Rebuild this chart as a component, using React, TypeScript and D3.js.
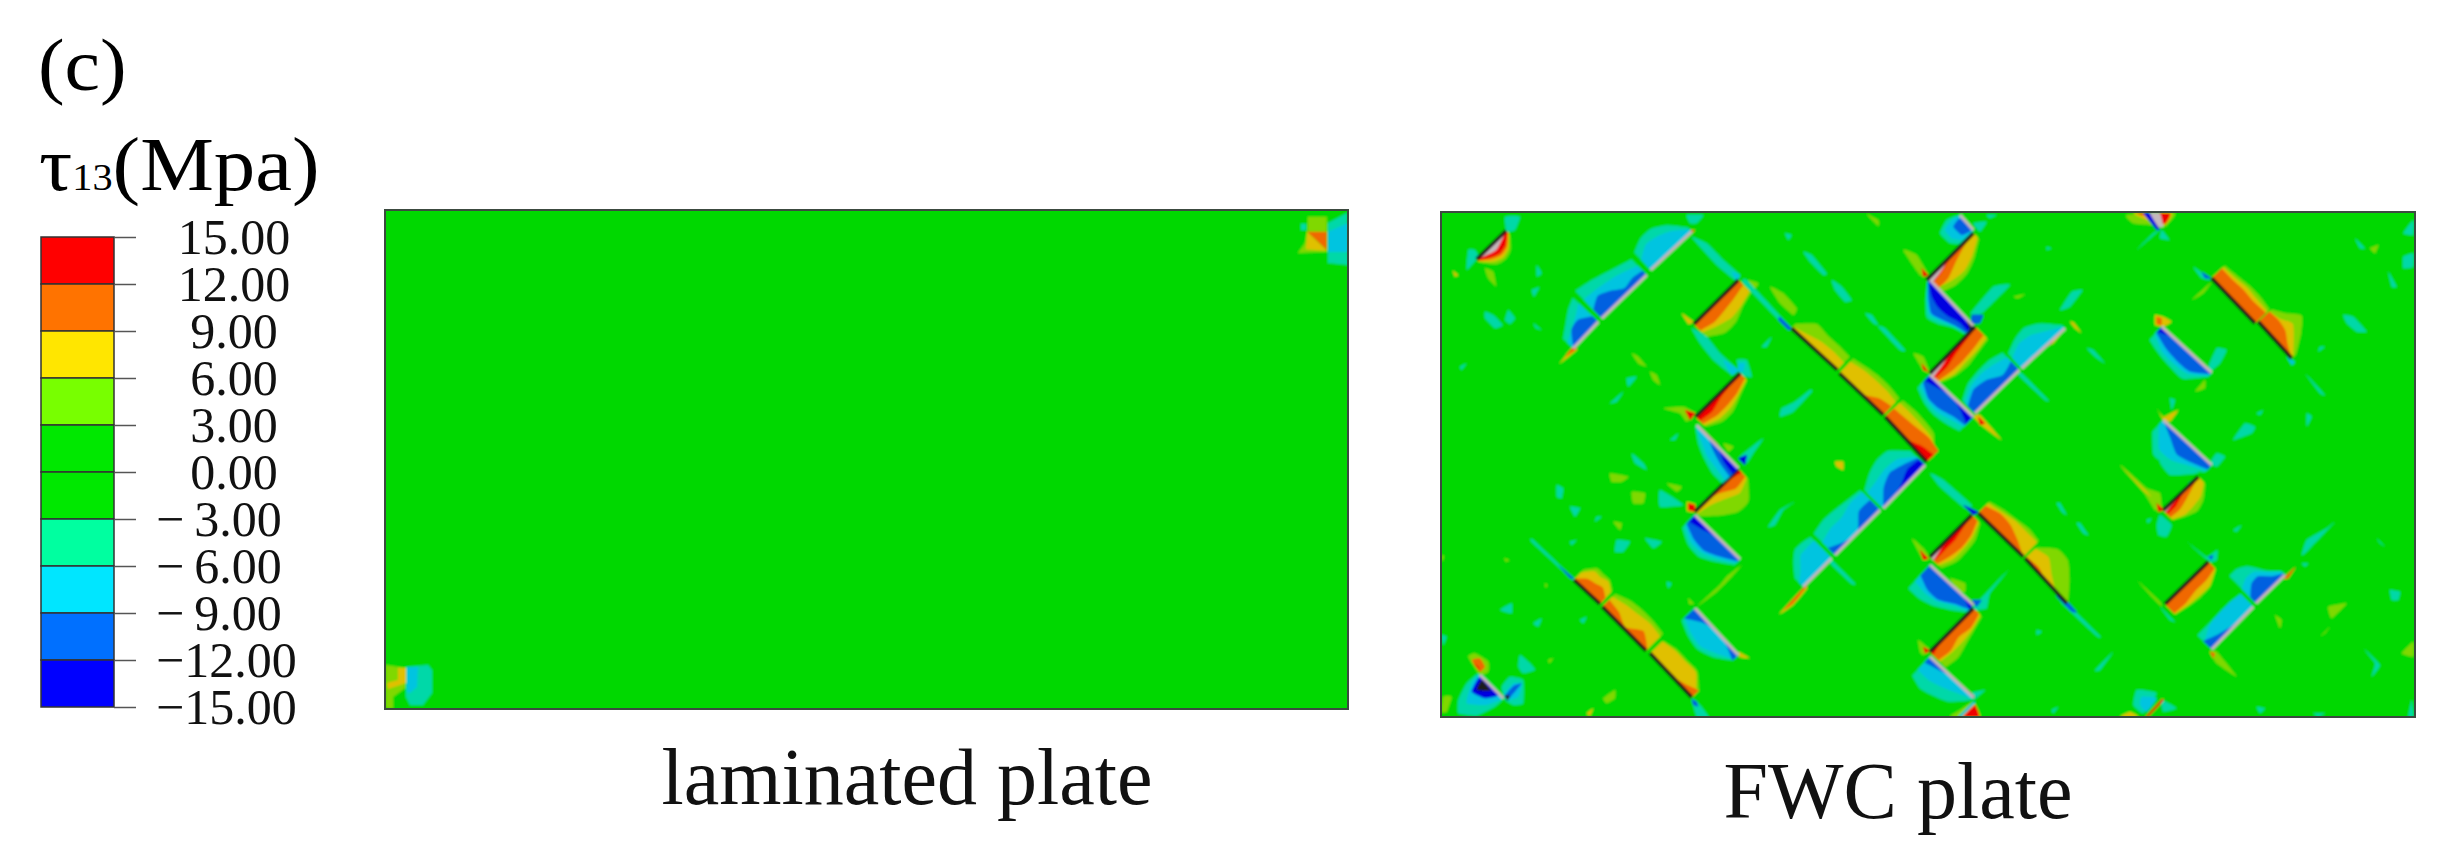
import React, { useEffect, useRef } from "react";
import * as d3 from "d3";

// contour levels of the legend, top to bottom
const legendTicks = [15, 12, 9, 6, 3, 0, -3, -6, -9, -12, -15];
const legendColors = ["#ff0000", "#ff7300", "#ffe600", "#78ff00", "#00e800", "#00e800", "#00ffa0", "#00e6ff", "#0070ff", "#0000ff"];

// shaded colours on the plates, from below -15 to above 15
const levelDomain = [-15, -12, -9, -6, -3, 0, 3, 6, 9, 12, 15];
const levelColors = ["#1c1c1c", "#0000e0", "#0060e0", "#00c4e0", "#00d8a8", "#00d800", "#00d800", "#80d800", "#e0c000", "#f06800", "#f00000", "#c4b8bc"];

// stress values (MPa)
const K = -16, D = -13.5, B = -10.5, C = -7.5, T = -4.5, L = 4.5, Y = 7.5, O = 10.5, R = 13.5, G = 16;

// laminated plate, only the two corners differ from the background: [stress, outline]
const laminatedPatches: [number, number[][]][] = [
  [L, [[923, 6.7], [941.7, 6.7], [942, 41.7], [913, 43], [920, 33], [922.7, 20]]],
  [Y, [[922, 21.7], [941.7, 40.7], [921, 39.3]]],
  [O, [[922.3, 21.7], [941.7, 21.7], [941.7, 40]]],
  [T, [[943, 13], [962, 3], [963, 55], [943, 53]]],
  [C, [[943, 21.7], [963, 13], [963, 42], [943, 42]]],
  [T, [[916, 14], [921, 14], [921, 20], [916, 20]]],
  [L, [[1, 455], [20, 458], [20, 478], [8, 487], [8, 498], [1, 498]]],
  [Y, [[13, 458], [21, 458], [21, 473], [3, 479], [2, 473], [13, 470]]],
  [T, [[21, 457], [43, 455], [47, 460], [47, 483], [38, 495], [25, 495], [21, 487]]],
  [C, [[22, 457], [33, 457], [32, 477], [25, 483], [22, 482]]],
];

// FWC plate, free-standing spots and crack tips: [stress, outline]
const fwcPatches: [number, number[][]][] = [
  [T, [[64, 4.7], [79, 4.7], [74, 18], [65.7, 19.7]]],
  [T, [[27.3, 38], [34, 38], [37.3, 44.7], [25.7, 58]]],
  [L, [[44, 56.3], [52.3, 59.7], [55, 74], [47.3, 66.3]]],
  [Y, [[11.7, 58.7], [17.3, 63], [14, 64.7]]],
  [T, [[95.7, 53], [100.7, 61.3], [95.7, 64.7]]],
  [T, [[44, 99.7], [52.3, 103], [61.7, 113], [54, 116.3], [44, 106.3]]],
  [T, [[67.3, 98], [74, 106.3], [69, 112], [64, 108]]],
  [T, [[92.3, 111.3], [100.7, 118], [95, 116.3]]],
  [T, [[90.7, 78], [98.3, 75.3], [93, 84.7]]],
  [L, [[190.7, 141.3], [197.3, 144.7], [205.7, 154.7], [197.3, 151.3]]],
  [L, [[209, 159.7], [215.7, 163], [219, 173], [212.3, 168]]],
  [T, [[185.7, 166.3], [195.7, 164.7], [187.3, 174.7]]],
  [T, [[169, 191.3], [182.3, 179.7], [175.7, 189.7]]],
  [T, [[369, 178], [370.7, 179.7], [352.3, 199.7], [339, 204.7], [340.7, 196.3], [354, 189.7]]],
  [T, [[320.7, 134.7], [330.7, 124.7], [325.7, 134.7]]],
  [L, [[329, 74.7], [342.3, 81.3], [355.7, 96.3], [352.3, 103], [339, 91.3]]],
  [L, [[307.3, 68], [317.3, 71.3], [314, 76.3]]],
  [T, [[362.3, 39.7], [370.7, 43], [385.7, 61.3], [382.3, 63], [369, 49.7]]],
  [T, [[390.7, 68], [400.7, 74.7], [410.7, 88], [404, 89.7], [394, 78]]],
  [T, [[424, 101.3], [430.7, 103], [437.3, 113], [432.3, 111.3]]],
  [T, [[437.3, 114.7], [444, 116.3], [464, 138], [459, 138]]],
  [L, [[425.7, 2], [437.3, 8], [437.3, 14]]],
  [T, [[344, 21.3], [350.7, 23], [347.3, 28]]],
  [Y, [[394, 249.7], [402.3, 249.7], [402.3, 258], [395.7, 254.7]]],
  [T, [[229, 228], [237.3, 221.3], [234, 228]]],
  [T, [[190.7, 241.3], [202.3, 251.3], [205.7, 258], [194, 251.3]]],
  [T, [[19, 154.7], [25.7, 151.3], [20.7, 158]]],
  [T, [[245.7, 3], [262.3, 3], [255.7, 11.3], [249, 11.3]]],
  [T, [[250.7, 24.7], [265.7, 31.3], [282.3, 48], [299, 63], [294, 68], [275.7, 53], [259, 34.7]]],
  [C, [[290.7, 59.7], [299, 63], [295.7, 68]]],
  [T, [[250.7, 116.3], [265.7, 124.7], [279, 141.3], [297.3, 158], [289, 161.3], [272.3, 148], [259, 131.3]]],
  [C, [[282.3, 148], [297.3, 158], [290.7, 163]]],
  [T, [[295.7, 148], [305.7, 148], [310.7, 164.7], [300.7, 163]]],
  [C, [[297.3, 151.3], [304, 151.3], [302.3, 159.7], [297.3, 159.7]]],
  [Y, [[240.7, 101.3], [252.3, 109.7], [247.3, 112]]],
  [L, [[222.3, 196.3], [242.3, 194.7], [254, 201.3], [245.7, 209.7], [239, 201.3]]],
  [R, [[244, 198], [254, 201.3], [249, 208]]],
  [T, [[305.7, 68], [347.3, 113], [345.7, 116.3], [302.3, 71.3]]],
  [B, [[339, 104.7], [350.7, 116.3], [347.3, 118], [337.3, 108]]],
  [T, [[299, 244.7], [322.3, 226.3], [312.3, 241.3], [305.7, 251.3]]],
  [D, [[297.3, 246.3], [305.7, 243], [304, 253]]],
  [R, [[259, 214.7], [277.3, 233], [274, 234.7], [257.3, 218]]],
  [L, [[282.3, 231.3], [292.3, 234.7], [287.3, 239.7]]],
  [Y, [[118.3, 152], [132.3, 134.7], [135.7, 138]]],
  [O, [[124, 144.7], [133, 133.7], [135.7, 137.3]]],
  [O, [[249, 18], [254, 18], [250.7, 21.3]]],
  [L, [[462.3, 38], [475.7, 43], [487.3, 63], [479, 63]]],
  [R, [[480.7, 56.3], [487.3, 63], [482.3, 64.7]]],
  [L, [[472.3, 141.3], [482.3, 144.7], [489, 161.3], [482.3, 158]]],
  [R, [[480.7, 151.3], [487.3, 159.7], [482.3, 158]]],
  [T, [[499, 21.3], [505.7, 8], [519, 3], [532.3, 18], [522.3, 31.3], [509, 31.3]]],
  [C, [[504, 18], [510.7, 8], [519, 3.7], [531.7, 18], [520.7, 28], [510.7, 26.3]]],
  [B, [[512.3, 14.7], [519, 6.3], [530.7, 18], [520.7, 23]]],
  [T, [[532.3, 11.3], [545.7, 9.7], [539, 19.7]]],
  [T, [[545.7, 3], [555.7, 3], [549, 6.3]]],
  [T, [[529, 101.3], [539, 103], [569, 73], [552.3, 74.7], [530.7, 99.7]]],
  [B, [[530.7, 103], [542.3, 103], [539, 111.3], [530.7, 111.3]]],
  [L, [[572.3, 84.7], [584, 82.3], [577.3, 86.3]]],
  [T, [[619, 98], [630.7, 79.7], [641.7, 78], [629, 94.7]]],
  [Y, [[629, 109.7], [633, 110.7], [640.7, 121.3], [634, 116.3]]],
  [T, [[645.7, 136.3], [652.3, 138], [664, 151.3], [654, 144.7]]],
  [T, [[605.7, 34.7], [610.7, 36.3], [605.7, 38]]],
  [Y, [[532.3, 204.7], [539, 203], [560.7, 228], [542.3, 214.7]]],
  [R, [[537.3, 204.7], [544, 211.3], [539, 213]]],
  [T, [[580.7, 161.3], [607.3, 188], [604, 188], [577.3, 163]]],
  [Y, [[602.3, 134.7], [624, 116.3], [612.3, 131.3]]],
  [R, [[604, 134.7], [614, 124.7], [610.7, 131.3]]],
  [L, [[685.7, 3], [734, 1.3], [724, 14.7], [709, 13], [692.3, 11.3]]],
  [Y, [[692.3, 1.3], [730.7, 1.3], [724, 13], [705.7, 8]]],
  [R, [[695.7, 1.3], [729, 1.3], [724, 12], [707.3, 4.7]]],
  [D, [[702.3, 1.3], [709, 1.3], [719, 18], [715.7, 18]]],
  [G, [[709, 1.3], [719, 1.3], [722.3, 14.7], [717.3, 14.7]]],
  [T, [[720.7, 16.3], [695.7, 38], [712.3, 21.3]]],
  [T, [[720.7, 18], [728.3, 28], [719, 26.3]]],
  [T, [[752.3, 54.7], [770.7, 68], [760.7, 66.3]]],
  [B, [[760.7, 59.7], [770.7, 66.3], [764, 66.3]]],
  [L, [[750.7, 88], [770.7, 69.7], [762.3, 81.3]]],
  [C, [[845.7, 144.7], [854, 149.7], [850.7, 153]]],
  [Y, [[714, 103], [722.3, 104.7], [730.7, 109.7], [722.3, 114.7], [714, 113]]],
  [O, [[715.7, 104.7], [720.7, 106.3], [720.7, 113], [715.7, 112]]],
  [T, [[767.3, 154.7], [775.7, 136.3], [785.7, 138], [779, 151.3], [769, 159.7]]],
  [L, [[754, 179.7], [764, 168], [764, 176.3]]],
  [Y, [[715.7, 196.3], [722.3, 204.7], [737.3, 198], [729, 209.7], [722.3, 208]]],
  [T, [[729, 186.3], [734, 188], [730.7, 198]]],
  [T, [[769, 251.3], [775.7, 241.3], [784, 244.7], [775.7, 254.7]]],
  [L, [[929, 36.3], [937.3, 33], [934, 41.3]]],
  [T, [[914, 26.3], [924, 36.3], [919, 36.3]]],
  [T, [[972.3, 8], [972.3, 23], [962.3, 21.3]]],
  [T, [[947.3, 59.7], [955.7, 74.7], [950.7, 74.7]]],
  [T, [[962.3, 44.7], [972.3, 41.3], [972.3, 54.7], [962.3, 56.3]]],
  [T, [[902.3, 103], [912.3, 104.7], [925.7, 119.7], [915.7, 119.7], [905.7, 111.3]]],
  [T, [[864, 161.3], [884, 183], [879, 181.3]]],
  [T, [[879, 134.7], [884, 134.7], [877.3, 139.7]]],
  [T, [[792.3, 228], [804, 211.3], [814, 214.7], [810.7, 221.3]]],
  [T, [[815.7, 201.3], [822.3, 198], [819, 203]]],
  [T, [[865.7, 201.3], [870.7, 204.7], [865.7, 214.7]]],
  [L, [[169, 261.3], [187.3, 264.7], [180.7, 269.7], [170.7, 269.7]]],
  [L, [[190.7, 279.7], [204, 281.3], [202.3, 291.3], [192.3, 291.3]]],
  [L, [[225.7, 271.3], [240.7, 274.7], [235.7, 279.7]]],
  [T, [[219, 278], [242.3, 293], [219, 294.7]]],
  [T, [[115.7, 273], [122.3, 276.3], [120.7, 286.3], [115.7, 284.7]]],
  [T, [[129, 294.7], [139, 296.3], [134, 304.7]]],
  [T, [[155.7, 304.7], [160.7, 304.7], [154, 309.7]]],
  [L, [[172.3, 309.7], [180.7, 311.3], [179, 318]]],
  [T, [[175.7, 328], [189, 329.7], [182.3, 339.7], [174, 339.7]]],
  [T, [[204, 326.3], [220.7, 329.7], [212.3, 336.3]]],
  [T, [[129, 329.7], [135.7, 328], [130.7, 333]]],
  [L, [[63, 346.3], [68.3, 348], [65, 349.7]]],
  [T, [[225.7, 369.7], [230.7, 371.3], [227.3, 376.3]]],
  [T, [[59, 398], [70.7, 391.3], [70.7, 401.3]]],
  [T, [[92.3, 411.3], [100.7, 406.3], [97.3, 414.7]]],
  [T, [[139, 408], [145.7, 404.7], [142.3, 411.3]]],
  [T, [[79, 443], [89, 451.3], [94, 458], [82.3, 461.3], [77.3, 454.7]]],
  [L, [[107.3, 448], [112.3, 446.3], [108.3, 451.3]]],
  [L, [[162.3, 486.3], [174, 478], [174, 486.3], [165.7, 491.3]]],
  [L, [[2.3, 484.7], [10.7, 484.7], [5.7, 499.7], [0.7, 499.7]]],
  [T, [[0.7, 423], [5.7, 424.7], [2.3, 433]]],
  [L, [[0.7, 343], [3, 344.7], [0.7, 349.7]]],
  [L, [[104, 371.3], [106.3, 373], [104.7, 376.3]]],
  [Y, [[145.7, 501.3], [152.3, 496.3], [149, 504]]],
  [T, [[92.3, 328], [132.3, 366.3], [130.5, 367], [90.7, 330]]],
  [B, [[117.3, 353], [133, 366.3], [129, 366.3]]],
  [T, [[250.7, 486.3], [259, 493], [267.3, 504.7], [255.7, 504.7]]],
  [B, [[250.7, 487.3], [255.7, 489.7], [257.3, 494.7], [252.3, 493]]],
  [T, [[17.3, 501.3], [17.3, 488], [25.7, 471.3], [39, 461.3], [62.3, 485.3], [54, 494.7], [35.7, 503.7]]],
  [C, [[25.7, 491.3], [30.7, 471.3], [39, 463], [62.3, 485.3], [45.7, 493]]],
  [D, [[30.7, 479.7], [39, 464.7], [57.3, 483], [44, 486.3]]],
  [K, [[35.7, 478], [40.7, 468], [49.7, 478.7]]],
  [L, [[27.3, 444.7], [34, 441.3], [47.3, 449.7], [47.3, 459.7], [39, 463]]],
  [O, [[30.7, 448], [39, 446.3], [44, 454.7], [39, 459.7]]],
  [R, [[32.3, 451.3], [37.3, 454.7], [39, 459.7]]],
  [T, [[60.7, 474.7], [69, 464.7], [82.3, 468], [82.3, 491.3], [72.3, 493], [64, 488]]],
  [C, [[64, 481.3], [72.3, 471.3], [80.7, 472], [77.3, 484.7], [67.3, 488]]],
  [B, [[63, 484.7], [72.3, 474], [80.7, 471.3], [69, 485.3]]],
  [K, [[64, 483], [69, 484], [66.3, 488.7]]],
  [Y, [[246, 290], [254, 292], [254, 300], [246, 299]]],
  [R, [[247.3, 291.3], [254, 293], [254, 299.7], [247.3, 298]]],
  [L, [[255.7, 394.7], [279, 373], [285.7, 364.7], [300.7, 353], [290.7, 364.7], [275.7, 379.7]]],
  [L, [[247.3, 386.3], [253, 392], [248.3, 392]]],
  [Y, [[297.3, 439.7], [309, 446.3], [299, 445.3]]],
  [Y, [[338.3, 402], [362.3, 376.3], [366.3, 376.3], [352.3, 393]]],
  [O, [[342.3, 398], [364, 374], [365.7, 374.7], [352.3, 391.3]]],
  [T, [[390.7, 348], [414, 371.3], [410.7, 372], [389, 351.3]]],
  [T, [[327.3, 314.7], [339, 298], [354, 289.7], [342.3, 298], [334, 313]]],
  [L, [[470.7, 326.3], [482.3, 336.3], [489, 346.3], [482.3, 348]]],
  [R, [[479, 338], [487.3, 346.3], [482.3, 348]]],
  [L, [[477.3, 428], [489, 438], [482.3, 443], [479, 439.7]]],
  [R, [[482.3, 434.7], [489, 438.7], [484, 441.3]]],
  [T, [[489, 261.3], [502.3, 268], [530.7, 293], [524, 296.3], [499, 274.7]]],
  [D, [[522.3, 293], [537.3, 299.7], [532.3, 303]]],
  [T, [[615.7, 291.3], [619, 291.3], [625.7, 303], [620.7, 299.7]]],
  [T, [[635.7, 311.3], [639, 311.3], [647.3, 323], [642.3, 321.3]]],
  [T, [[622.3, 388], [659, 424], [655.7, 424], [620.7, 391.3]]],
  [B, [[617.3, 379.7], [635.7, 399.7], [630.7, 399.7], [615.7, 384.7]]],
  [T, [[532.3, 394.7], [567.3, 358], [549, 381.3], [545.7, 396.3], [535.7, 398]]],
  [B, [[530.7, 388], [540.7, 388], [535.7, 394.7]]],
  [L, [[509, 366.3], [524, 371.3], [524, 379.7], [517.3, 379.7]]],
  [T, [[595.7, 418], [600.7, 419.7], [595.7, 423]]],
  [T, [[654, 458], [672.3, 439.7], [659, 458]]],
  [T, [[792.3, 318], [800.7, 313], [795.7, 319.7]]],
  [T, [[705.7, 308], [710.7, 306.3], [707.3, 311.3]]],
  [T, [[610.7, 498], [617.3, 494.7], [612.3, 501.3]]],
  [T, [[529, 481.3], [544, 478], [532.3, 488]]],
  [L, [[509, 504.7], [519, 498], [532.3, 489.7], [539, 504.7]]],
  [Y, [[517.3, 504.7], [532.3, 490.7], [539, 504.7]]],
  [R, [[522.3, 504.7], [534, 493], [538.3, 504.7]]],
  [C, [[517.3, 504.7], [532.3, 489.7], [534, 491.3], [520.7, 504.7]]],
  [T, [[719, 248], [767.3, 248], [755.7, 261.3], [729, 263]]],
  [B, [[747.3, 271.3], [757.3, 264.7], [752.3, 273]]],
  [L, [[679, 253], [689, 261.3], [705.7, 276.3], [719, 281.3], [720.7, 298], [714, 298], [702.3, 279.7]]],
  [Y, [[679.7, 254], [702.3, 276.3], [710.7, 284.7], [702.3, 278.7]]],
  [R, [[715.7, 291.3], [723, 298], [717.3, 299.7]]],
  [T, [[719, 303], [730.7, 313], [725.7, 324.7], [717.3, 323], [715.7, 313]]],
  [L, [[695.7, 368], [719, 389.7], [720.7, 394.7], [712.3, 386.3]]],
  [T, [[719, 394.7], [734, 409.7], [729, 408]]],
  [T, [[745.7, 329.7], [765.7, 344.7], [776.3, 338], [775.7, 348], [769, 349.7]]],
  [B, [[767.3, 344.7], [772.3, 343], [770.7, 348]]],
  [O, [[842.3, 366.3], [854.7, 354.7], [847.3, 366.3]]],
  [L, [[769, 439.7], [775.7, 439.7], [795.7, 464.7], [775.7, 451.3]]],
  [O, [[769, 439.7], [774, 441.3], [772.3, 446.3]]],
  [T, [[860.7, 343], [865.7, 328], [885.7, 316.3], [894, 309.7], [865.7, 339.7]]],
  [T, [[860.7, 351.3], [867.3, 351.3], [864, 354.7]]],
  [L, [[834, 403], [840.7, 408], [839, 416.3]]],
  [L, [[887.3, 394.7], [905.7, 391.3], [890.7, 406.3]]],
  [L, [[879, 424.7], [889, 414.7], [884, 421.3]]],
  [T, [[949, 378], [959, 379.7], [957.3, 388], [950.7, 388]]],
  [T, [[922.3, 436.3], [939, 453], [930.7, 464.7], [934, 451.3]]],
  [L, [[960.7, 441.3], [972.3, 429.7], [972.3, 444.7]]],
  [T, [[935.7, 326.3], [944, 334.7], [939, 331.3]]],
  [T, [[970.7, 488], [972.3, 504.7], [967.3, 504.7]]],
  [T, [[815.7, 494.7], [824, 496.3], [819, 501.3]]],
  [T, [[872.3, 501.3], [884, 501.3], [877.3, 504.7]]],
  [T, [[695.7, 478], [715.7, 481.3], [702.3, 501.3], [692.3, 493]]],
  [C, [[700.7, 484.7], [715.7, 486.3], [705.7, 499.7], [699, 493]]],
  [T, [[720.7, 488], [735.7, 496.3], [722.3, 499.7]]],
  [Y, [[679, 504.7], [697.3, 504.7], [689, 499.7]]],
  [R, [[720.7, 487.3], [722.3, 488.7], [707.3, 504.7], [705, 504.7]]],
  [R, [[499, 454.7], [532.3, 483], [530.7, 485.3], [497.3, 456.3]]],
];

// cracks: [x1, y1, x2, y2, bands], every band is [stress, reach from the crack at even stations],
// bands lie to the left of the direction of travel, outermost first
const fwcCracks: [number, number, number, number, number[][]][] = [
  [65, 18.7, 35.7, 47.3, [[L, 6, 17, 20, 17, 4], [Y, 4, 14, 17, 13, 3], [O, 3, 12, 14, 10, 2], [R, 2, 10, 12, 8, 1], [G, 0, 4, 7, 4, 0]]],
  [132.3, 136.3, 157.3, 109.7, [[T, 14, 22, 30, 35], [C, 8, 14, 20, 27], [B, 0, 14, 16, 8]]],
  [160.7, 106.3, 205.7, 63, [[T, 38, 34, 28, 22], [C, 26, 24, 20, 13], [B, 12, 19, 14, 6, 8, 6]]],
  [209.7, 58, 250.7, 19.7, [[T, 24, 30, 30, 22, 6], [C, 14, 22, 20, 14, 3]]],
  [297.3, 68, 253, 112, [[L, 18, 22, 28, 28, 18], [Y, 16, 20, 22, 18, 12], [O, 7, 10, 12, 13, 9]]],
  [299, 161.3, 254.7, 204.7, [[L, 10, 16, 22, 22, 14], [Y, 9, 14, 18, 18, 12], [O, 7, 12, 14, 14, 10], [R, 2, 2, 4, 8, 6]]],
  [350.7, 116.3, 396.3, 158, [[L, 6, 20, 19, 19, 18], [Y, 2, 6, 10, 11, 10]]],
  [398.3, 161.3, 442.3, 203, [[L, 20, 23, 25, 25, 23], [Y, 16, 19, 20, 20, 18], [O, 0, 0, 0, 9, 12]]],
  [444, 204.7, 485.7, 249.7, [[L, 24, 26, 26, 24, 10], [Y, 20, 21, 21, 20, 12], [O, 12, 14, 16, 18, 16], [R, 0, 0, 0, 7, 10]]],
  [532.3, 21.3, 485.7, 68, [[L, 8, 18, 24, 24, 18], [Y, 6, 15, 20, 18, 12], [O, 0, 3, 8, 14, 14], [R, 0, 0, 1, 5, 7], [G, 0, 0, 0, 4, 6]]],
  [532.3, 18, 519, 3, [[T, 0, 0]]],
  [532.3, 114, 489, 68, [[T, 12, 16, 24, 28, 18, 4], [C, 10, 14, 20, 24, 16, 3], [B, 10, 13, 18, 22, 14, 3], [D, 8, 8, 12, 13, 10, 2], [K, 5, 0, 0, 0, 0, 0]]],
  [534, 114.7, 489, 161.3, [[L, 18, 20, 22, 20, 14], [Y, 16, 18, 18, 18, 12], [O, 12, 14, 15, 14, 11], [R, 1, 3, 5, 8, 7], [G, 0, 0, 0, 3, 5]]],
  [532.3, 204.7, 489, 163, [[T, 20, 24, 26, 24, 18], [C, 14, 18, 22, 20, 14], [B, 12, 14, 18, 18, 10], [D, 10, 4, 0, 4, 8]]],
  [534, 201.3, 578.3, 158, [[T, 18, 26, 28, 28, 24], [C, 14, 22, 24, 22, 18], [B, 10, 18, 16, 8, 12]]],
  [580.7, 156.3, 624, 116.3, [[T, 20, 26, 28, 20, 4], [C, 14, 20, 18, 10, 2]]],
  [770.7, 66.3, 814, 111.3, [[L, 18, 20, 22, 22, 20], [Y, 16, 17, 19, 18, 17], [O, 14, 14, 15, 14, 15]]],
  [817.3, 109.7, 850.7, 146.3, [[L, 18, 26, 36, 24, 6], [Y, 15, 18, 24, 14, 2], [O, 15, 16, 14, 6, 0]]],
  [770.7, 160.7, 720.7, 114.7, [[T, 6, 24, 24, 22, 18], [C, 4, 17, 19, 18, 10], [B, 2, 14, 15, 13, 8], [D, 0, 0, 0, 0, 7]]],
  [770.7, 253, 722.3, 208, [[T, 10, 20, 30, 32, 16], [C, 8, 16, 24, 24, 6], [B, 6, 12, 16, 8, 0]]],
  [133, 368, 159, 392, [[L, 14, 24, 24, 24, 18], [Y, 10, 20, 20, 22, 16], [O, 2, 10, 12, 14, 8]]],
  [161.3, 394.7, 205, 438.7, [[L, 18, 24, 26, 26, 24], [Y, 14, 18, 20, 22, 20], [O, 10, 8, 2, 12, 2]]],
  [209, 441.3, 250.7, 485.3, [[L, 18, 22, 22, 22, 10], [Y, 17, 20, 20, 20, 6], [O, 0, 0, 0, 4, 10]]],
  [62.3, 486.3, 39, 463, [[T, 0, 0]]],
  [299, 347.3, 254, 303, [[T, 8, 19, 27, 26, 18], [C, 5, 15, 22, 22, 14], [B, 3, 12, 19, 18, 12], [D, 0, 0, 0, 5, 9]]],
  [297.3, 257.3, 254, 299.7, [[L, 14, 30, 30, 20, 6], [Y, 12, 18, 12, 6, 3], [O, 10, 12, 4, 0, 0], [R, 5, 1, 0, 0, 0]]],
  [297.3, 256.3, 255.7, 213, [[T, 22, 22, 18, 12, 2], [C, 18, 16, 14, 8, 1], [B, 12, 10, 6, 0, 0], [D, 8, 6, 0, 0, 0]]],
  [297.3, 443, 254, 396.3, [[T, 8, 20, 26, 24, 18], [C, 6, 15, 22, 20, 14], [B, 8, 2, 0, 4, 15]]],
  [362.3, 374.7, 390.7, 346.3, [[T, 12, 24, 32, 32, 30], [C, 6, 14, 24, 25, 25]]],
  [394, 343, 439, 298, [[T, 30, 33, 32, 30, 28], [C, 18, 22, 22, 26, 25], [B, 10, 3, 0, 14, 14]]],
  [442.3, 296.3, 484, 253, [[T, 26, 34, 38, 36, 20], [C, 22, 24, 26, 24, 12], [B, 0, 14, 20, 16, 10], [D, 0, 0, 4, 10, 8]]],
  [530.7, 303, 489, 344.7, [[L, 12, 20, 22, 22, 16], [Y, 10, 16, 18, 18, 12], [O, 8, 14, 16, 14, 10], [R, 0, 3, 6, 6, 6], [G, 0, 0, 0, 2, 5]]],
  [537.3, 301.3, 582.3, 344.7, [[L, 16, 20, 22, 24, 22], [Y, 14, 17, 20, 20, 20], [O, 10, 15, 14, 8, 0]]],
  [584, 346.3, 625.7, 391.3, [[L, 16, 30, 30, 18, 2], [Y, 14, 18, 8, 0, 0], [O, 2, 4, 0, 0, 0]]],
  [532.3, 393, 489, 353, [[T, 10, 20, 28, 32, 32], [C, 8, 14, 22, 24, 22], [B, 6, 12, 20, 20, 14], [D, 6, 0, 0, 0, 2]]],
  [532.3, 396.3, 489, 439.7, [[L, 12, 16, 20, 24, 22], [Y, 10, 14, 16, 16, 14], [O, 8, 12, 10, 14, 12], [R, 0, 0, 0, 0, 5]]],
  [532.3, 485.3, 489, 444.7, [[T, 4, 20, 26, 30, 26], [C, 2, 8, 14, 18, 18], [B, 0, 0, 0, 4, 8]]],
  [757.3, 264.7, 722.3, 298, [[L, 10, 20, 24, 20, 14], [Y, 8, 16, 18, 18, 13], [O, 0, 4, 8, 11, 10], [R, 0, 0, 2, 6, 6], [G, 0, 0, 0, 2, 3]]],
  [767.3, 349.7, 724, 392, [[L, 11, 19, 20, 18, 15], [Y, 10, 18, 18, 17, 14], [O, 9, 12, 12, 14, 13]]],
  [770.7, 437.3, 812.3, 394.7, [[T, 20, 20, 20, 20, 18], [C, 10, 18, 20, 20, 18], [B, 12, 6, 2, 0, 0]]],
  [815, 391.3, 844, 363, [[T, 38, 38, 32, 16, 6], [C, 20, 25, 24, 14, 4], [B, 8, 17, 18, 8, 2]]],
];

const xLabels = ["laminated plate", "FWC plate"];

export default function App() {
  const ref = useRef<SVGSVGElement>(null);

  useEffect(() => {
    const svg = d3.select(ref.current);
    svg.selectAll("*").remove();

    const serif = "'Liberation Serif', serif";
    const level = d3.scaleThreshold<number, string>().domain(levelDomain).range(levelColors);
    const blob = d3.line().curve(d3.curveCardinalClosed.tension(0.6));
    const corner = d3.line().curve(d3.curveLinearClosed);
    const edge = d3.line().curve(d3.curveCardinal.tension(0.4));

    const defs = svg.append("defs");
    defs.append("filter").attr("id", "soft").append("feGaussianBlur").attr("stdDeviation", 0.8);

    // headings, the figure is a little wider than tall
    svg.append("text").attr("transform", "translate(38,90) scale(1.08,1)")
      .attr("font-family", serif).attr("font-size", 74).text("(c)");
    const head = svg.append("text").attr("transform", "translate(39,190) scale(1.09,1)")
      .attr("font-family", serif).attr("font-size", 76);
    head.append("tspan").text("τ");
    head.append("tspan").attr("font-size", 37).text("13");
    head.append("tspan").text("(Mpa)");

    // legend
    const legendY = d3.scaleLinear().domain([15, -15]).range([237, 707]);
    svg.append("g").selectAll("rect").data(legendColors).join("rect")
      .attr("x", 41).attr("width", 73)
      .attr("y", (_, i) => legendY(legendTicks[i]))
      .attr("height", (_, i) => legendY(legendTicks[i + 1]) - legendY(legendTicks[i]))
      .attr("fill", (d) => d).attr("stroke", "#333").attr("stroke-width", 1.5);

    const fmt = (v: number) => {
      const s = d3.format(".2f")(v);
      return v < 0 && v > -10 ? s.replace("−", "−\u2009") : s;
    };
    const axis = svg.append("g").attr("transform", "translate(114,0)")
      .call(d3.axisRight(legendY).tickValues(legendTicks).tickSize(22).tickFormat(fmt as any));
    axis.select(".domain").remove();
    axis.selectAll("line").attr("stroke", "#555").attr("stroke-width", 1.5);
    axis.selectAll("text")
      .attr("font-family", serif).attr("font-size", 50).attr("fill", "#111")
      .attr("text-anchor", (d: any) => (d < 0 ? "start" : "middle"))
      .attr("x", (d: any) => (d < 0 ? 156 - 114 : 234 - 114));

    // one plate with its contours
    function drawPlate(id: string, box: number[], size: number[], patches: [number, number[][]][], cracks: [number, number, number, number, number[][]][], shape: any) {
      const x = d3.scaleLinear().domain([0, size[0]]).range([box[0], box[1]]);
      const y = d3.scaleLinear().domain([0, size[1]]).range([box[2], box[3]]);
      const pt = (p: number[]) => [x(p[0]), y(p[1])] as [number, number];

      defs.append("clipPath").attr("id", id).append("rect")
        .attr("x", box[0]).attr("y", box[2]).attr("width", box[1] - box[0]).attr("height", box[3] - box[2]);

      const g = svg.append("g").attr("clip-path", `url(#${id})`);
      const marks = g.append("g").attr("filter", "url(#soft)");
      marks.append("rect")
        .attr("x", box[0] - 4).attr("y", box[2] - 4)
        .attr("width", box[1] - box[0] + 8).attr("height", box[3] - box[2] + 8)
        .attr("fill", level(1));

      marks.selectAll("path.patch").data(patches).join("path")
        .attr("class", "patch")
        .attr("fill", (d) => level(d[0]))
        .attr("d", (d) => shape(d[1].map(pt)));

      cracks.forEach(([x1, y1, x2, y2, bands]) => {
        const len = Math.hypot(x2 - x1, y2 - y1);
        const nx = (y2 - y1) / len;
        const ny = -(x2 - x1) / len;
        bands.forEach(([value, ...reach]) => {
          const outer = reach.map((r, i) => {
            const t = i / (reach.length - 1);
            return pt([x1 + (x2 - x1) * t + nx * r, y1 + (y2 - y1) * t + ny * r]);
          });
          marks.append("path")
            .attr("fill", level(value))
            .attr("d", `M${pt([x1, y1])}L${(edge(outer) as string).slice(1)}L${pt([x2, y2])}Z`);
        });
        // black crack on the tension side, pale on the compression side
        marks.append("line")
          .attr("x1", x(x1)).attr("y1", y(y1)).attr("x2", x(x2)).attr("y2", y(y2))
          .attr("stroke", bands[0][0] > 0 ? "#141414" : "#c6b6ba")
          .attr("stroke-width", bands[0][0] > 0 ? 3.6 : 3);
      });

      svg.append("rect")
        .attr("x", box[0]).attr("y", box[2]).attr("width", box[1] - box[0]).attr("height", box[3] - box[2])
        .attr("fill", "none").attr("stroke", "#3c4a40").attr("stroke-width", 2);
    }

    drawPlate("plate-lam", [385, 1348, 210, 709], [963, 499], laminatedPatches, [], corner);
    drawPlate("plate-fwc", [1441, 2415, 212, 717], [974, 505], fwcPatches, fwcCracks, blob);

    // captions
    svg.append("g").selectAll("text").data(xLabels).join("text")
      .attr("x", (_, i) => [907, 1898][i]).attr("y", (_, i) => [804, 818][i])
      .attr("text-anchor", "middle").attr("font-family", serif).attr("font-size", 80).attr("fill", "#111")
      .text((d) => d);
  }, []);

  return <svg ref={ref} width={2448} height={855} style={{ position: "absolute", left: 0, top: 0, background: "#fff" }} />;
}
